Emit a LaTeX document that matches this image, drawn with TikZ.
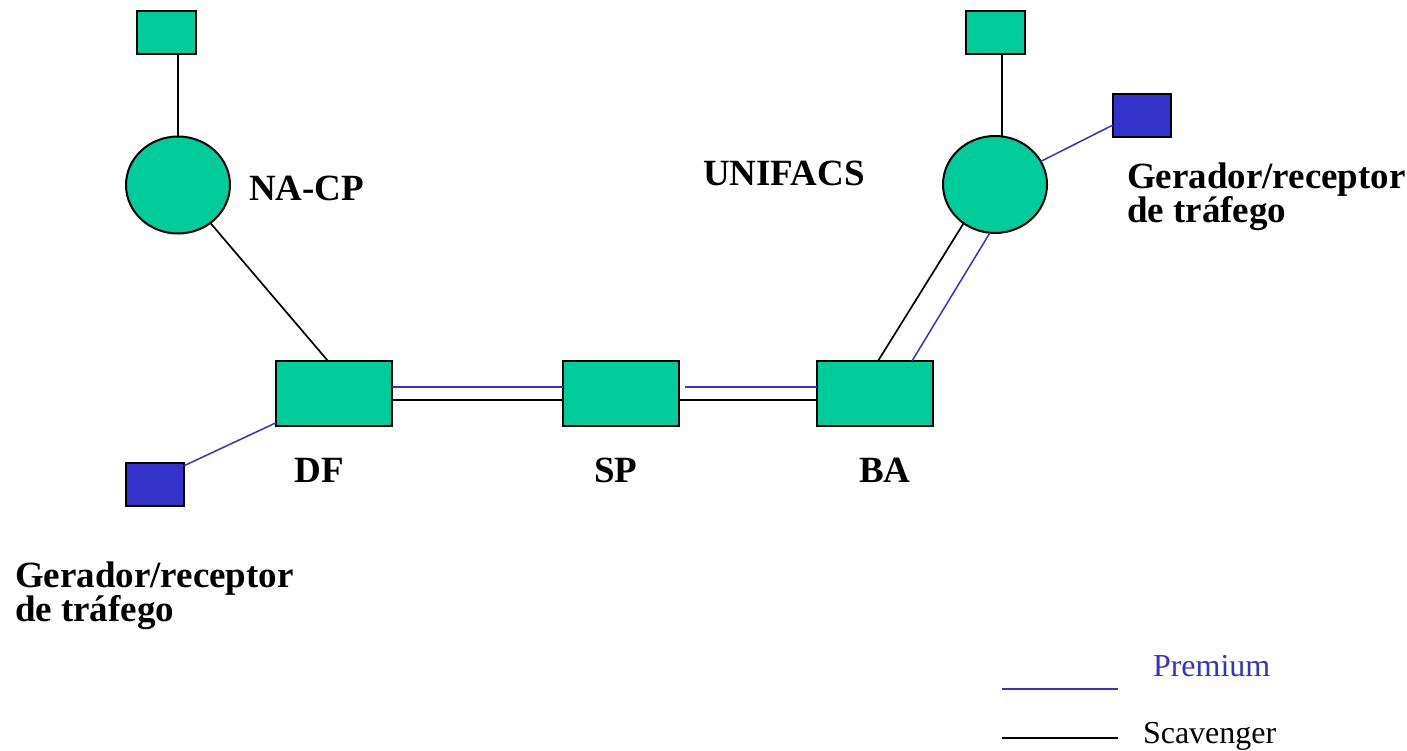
\documentclass[tikz,border=0pt]{standalone}
\usepackage{fontspec}
\setmainfont{Liberation Serif}
\usetikzlibrary{shapes.geometric}
\definecolor{nodegreen}{HTML}{00CC99}
\definecolor{premiumblue}{HTML}{3333CC}
\begin{document}
\begin{tikzpicture}[x=1pt,y=-1pt,
  every node/.style={inner sep=0pt, outer sep=0pt},
  router/.style={rectangle, draw=black, fill=nodegreen, line width=2pt,
                 minimum width=116pt, minimum height=65pt},
  host/.style={rectangle, draw=black, fill=nodegreen, line width=2pt,
               minimum width=59pt, minimum height=43pt},
  traffic/.style={rectangle, draw=black, fill=premiumblue, line width=2pt,
                  minimum width=58pt, minimum height=43pt},
  site/.style={ellipse, draw=black, fill=nodegreen, line width=2pt,
               minimum width=104pt, minimum height=97pt},
  label/.style={font=\fontsize{37}{34}\selectfont\bfseries, anchor=base west, align=left},
  pop/.style={font=\fontsize{37}{34}\selectfont\bfseries, anchor=base},
  scav/.style={draw=black, line width=1.7pt},
  premium/.style={draw=premiumblue, line width=1.5pt},
  legendtext/.style={font=\fontsize{32}{34}\selectfont, anchor=base west}
]
\useasboundingbox (0,0) rectangle (1407,751);

% backbone routers
\node[router] (df) at (333.5,393.5) {};
\node[router] (sp) at (621,393.5) {};
\node[router] (ba) at (875,393.5) {};

% access sites and their hosts
\node[site] (nacp) at (178,185) {};
\node[site] (unifacs) at (995,184.5) {};
\node[host] (hostL) at (166.5,32.5) {};
\node[host] (hostR) at (995.5,32.5) {};

% traffic generators/receivers
\node[traffic] (genL) at (154.5,484) {};
\node[traffic] (genR) at (1142,115.5) {};

% links
\draw[scav] (nacp.north |- hostL.south) -- (nacp.north);
\draw[scav] (nacp) -- ([xshift=-5.5pt]df.north);
\draw[premium] ([yshift=6.5pt]df.east) -- ([yshift=6.5pt]sp.west);
\draw[scav] ([yshift=-6.5pt]df.east) -- ([yshift=-6.5pt]sp.west);
\draw[premium] ([xshift=6pt,yshift=6.5pt]sp.east) -- ([yshift=6.5pt]ba.west);
\draw[scav] ([yshift=-6.5pt]sp.east) -- ([yshift=-6.5pt]ba.west);
\draw[scav] ([xshift=3pt]ba.north) -- (unifacs.231);
\draw[premium] ([xshift=37pt]ba.north) -- (unifacs.264);
\draw[scav] ([xshift=7pt]unifacs.north) -- ([xshift=7pt]unifacs.north |- hostR.south);
\draw[premium] (unifacs) -- ([yshift=-9.5pt]genR.west);
\draw[premium] ([yshift=18pt]genL.east) -- ([yshift=-29.5pt]df.west);

% labels (two-line labels are anchored at the baseline of their last line)
\node[label] (lnacp) at (249,200.7) {NA-CP};
\node[label] (lunifacs) at (703,185.7) {UNIFACS};
\node[label] (lgenR) at (1127,223) {Gerador/receptor\\de tráfego};
\node[label] (lgenL) at (15,621) {Gerador/receptor\\de tráfego};
\node[pop] (ldf) at (319,482) {DF};
\node[pop] (lsp) at (616,482) {SP};
\node[pop] (lba) at (885,482) {BA};

% legend
\coordinate (pa) at (1002,689);
\coordinate (pb) at (1118,689);
\coordinate (sa) at (1002,738);
\coordinate (sb) at (1118,738);
\draw[premium, line width=1.8pt] (pa) -- (pb);
\draw[scav, line width=1.8pt] (sa) -- (sb);
\node[legendtext, text=premiumblue] (lprem) at (1153,676) {Premium};
\node[legendtext] (lscav) at (1143,743) {Scavenger};
\end{tikzpicture}
\end{document}
